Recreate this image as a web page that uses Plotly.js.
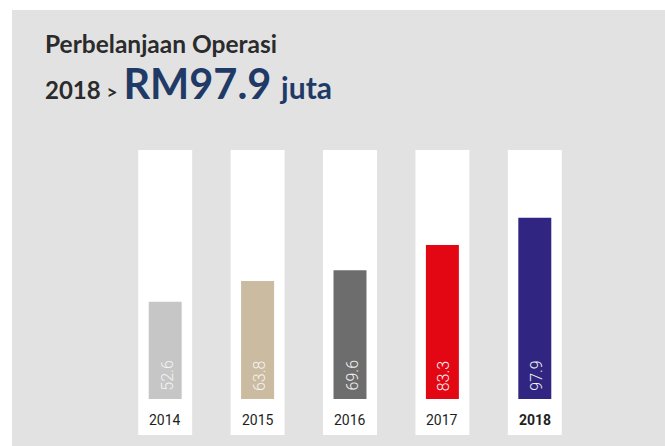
<!DOCTYPE html>
<html>
<head>
<meta charset="utf-8">
<script src="https://cdn.plot.ly/plotly-3.0.1.min.js"></script>
<style>
html,body{margin:0;padding:0;background:#ffffff;width:665px;height:446px;overflow:hidden;}
#chart{position:absolute;left:12px;top:10px;width:653px;height:436px;}
</style>
</head>
<body>
<div id="chart"></div>
<script>
// Data
const years = ["2014", "2015", "2016", "2017", "2018"];
const values = [52.6, 63.8, 69.6, 83.3, 97.9];
const valueLabels = ["52.6", "63.8", "69.6", "83.3", "97.9"];
const barColors = ["#c6c6c6", "#cbbba0", "#6d6d6d", "#e30613", "#302681"];
const titleLine1 = "Perbelanjaan Operasi";
const titleYear = "2018";
const titleAmount = "RM97.9";
const titleUnit = "juta";

// Background white panels (decorative), spanning the full axis range
const yMin = -19.5, yMax = 134.6;
const xIdx = years.map((_, i) => i);

const panelTrace = {
  type: "bar",
  x: xIdx,
  y: years.map(() => yMax - yMin),
  base: years.map(() => yMin),
  width: 0.584,
  marker: {color: "#ffffff", line: {width: 0}},
  hoverinfo: "skip",
  showlegend: false
};

const barTrace = {
  type: "bar",
  x: xIdx,
  y: values,
  width: 0.357,
  marker: {color: barColors, line: {width: 0}},
  showlegend: false,
  hoverinfo: "x+y"
};

const annotations = [];
// value labels (rotated, inside bar bottom)
values.forEach((v, i) => {
  annotations.push({
    x: i, y: 0, xref: "x", yref: "y",
    text: valueLabels[i],
    textangle: -90,
    showarrow: false,
    xanchor: "center", yanchor: "bottom",
    yshift: 6, xshift: 2,
    font: {family: "Roboto, 'Open Sans', sans-serif", size: 16, weight: 300, color: "#f4f4f4"}
  });
});
// year labels
years.forEach((y, i) => {
  const last = i === years.length - 1;
  annotations.push({
    x: i, y: -11.4, xref: "x", yref: "y",
    text: last ? "<b>" + y + "</b>" : y,
    showarrow: false,
    xanchor: "center", yanchor: "middle",
    font: {family: "Roboto, 'Open Sans', sans-serif", size: 14, color: "#1e1e1e"}
  });
});
// title lines
annotations.push({
  xref: "paper", yref: "paper", x: -0.1638, y: 1.372,
  xanchor: "left", yanchor: "middle", showarrow: false,
  text: titleLine1,
  font: {family: "Lato, 'Open Sans', sans-serif", size: 24.5, weight: 700, color: "#2b2b2b"}
});
annotations.push({
  xref: "paper", yref: "paper", x: -0.1638, y: 1.235,
  xanchor: "left", yanchor: "middle", showarrow: false,
  text: titleYear + " <span style='font-size:19px'>&gt;</span> <span style='font-size:41.5px;color:#1f3a66'>" + titleAmount + "</span><span style='font-size:20px'>&nbsp;&nbsp;</span><span style='font-size:30px;color:#1f3a66'>" + titleUnit + "</span>",
  font: {family: "Lato, 'Open Sans', sans-serif", size: 24, weight: 700, color: "#2b2b2b"}
});

const layout = {
  width: 653, height: 436,
  margin: {l: 106.75, r: 83.75, t: 140, b: 11, pad: 0},
  paper_bgcolor: "#e2e2e2",
  plot_bgcolor: "rgba(0,0,0,0)",
  barmode: "overlay",
  showlegend: false,
  xaxis: {range: [-0.5, 4.5], showgrid: false, zeroline: false, showticklabels: false, ticks: "", showline: false, fixedrange: true},
  yaxis: {range: [yMin, yMax], showgrid: false, zeroline: false, showticklabels: false, ticks: "", showline: false, fixedrange: true},
  annotations: annotations
};

Plotly.newPlot("chart", [panelTrace, barTrace], layout, {displayModeBar: false, staticPlot: true});
</script>
</body>
</html>
